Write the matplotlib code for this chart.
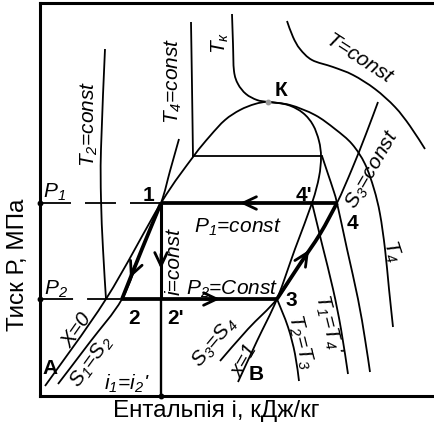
import numpy as np
import matplotlib
matplotlib.use("Agg")
import matplotlib.pyplot as plt
from matplotlib.path import Path
from matplotlib.patches import PathPatch

plt.rcParams["font.family"] = ["Liberation Sans", "DejaVu Sans"]
plt.rcParams["mathtext.default"] = "regular"
plt.rcParams["lines.scale_dashes"] = False

# ---- pressure levels and cycle state points (enthalpy i, pressure P; arbitrary units)
P1 = 193
P2 = 97
P_T4 = 240
i_1, i_2, i_2p, i_3, i_4p, i_4 = 121, 82, 121, 237, 272, 297
i_K, P_K = 228, 294

# ---- saturation dome: x=0 branch from A up to K, then x=1 branch down to B
dome_i = [5, 66, 121, 153, 170, 185, 200, 215, 228, 248, 263, 273, 279, 281, 279, 272, 255, 237, 217, 198]
dome_P = [10, 97, 193, 239, 260, 276, 286, 292, 294, 291, 283, 271, 255, 239, 219, 193, 147, 97, 55, 14]

# ---- critical isotherm Tк (passes through K)
tk_i = [192, 193, 194, 198, 206, 217, 228, 250, 275, 295, 312, 325, 334, 340, 345, 349, 353]
tk_P = [382, 352, 325, 312, 302, 296, 294, 291, 281, 267, 252, 232, 207, 182, 147, 107, 69]

# ---- isotherm T4: liquid part, two-phase part at P_T4, superheated part through 4
t4_liq_i = [151, 152, 153]
t4_liq_P = [374, 310, 239]
t4_two_i = [153, 282]
t4_vap_i = [282, 288, 293, 297, 307, 318, 325, 330]
t4_vap_P = [240, 222, 207, 193, 147, 97, 57, 24]

# ---- isotherm T1 = T4' (superheated branch from 4')
t1_i = [272, 282, 293, 301, 308]
t1_P = [193, 152, 107, 67, 22]

# ---- isotherm T2 = T3 (liquid branch and superheated branch from 3)
t2_liq_i = [65, 61, 61, 63, 66]
t2_liq_P = [347, 247, 197, 147, 97]
t3_i = [237, 248, 255, 259]
t3_P = [97, 69, 42, 15]

# ---- isentropes S1 = S2 (through 1 and 2) and S3 = S4 (through 3 and 4)
s1_i = [18, 50, 82, 102, 121, 130, 139]
s1_P = [12, 54, 97, 147, 193, 225, 257]
s3_i = [180, 208, 237, 260, 280, 297, 312, 326, 338]
s3_P = [35, 67, 97, 132, 162, 193, 227, 262, 294]

# ---- a high-temperature isotherm T = const
tc_i = [247, 253, 260, 272, 293, 313, 335, 355, 370, 385]
tc_P = [375, 359, 347, 336, 329, 321, 307, 289, 270, 247]

THIN = 1.3
THICK = 2.7


def smooth_path(xs, ys):
    """Smooth curve through the given points (Catmull-Rom as cubic Bezier)."""
    pts = np.column_stack([xs, ys]).astype(float)
    n = len(pts)
    verts = [pts[0]]
    codes = [Path.MOVETO]
    for k in range(n - 1):
        p0 = pts[k - 1] if k > 0 else pts[k]
        p1, p2 = pts[k], pts[k + 1]
        p3 = pts[k + 2] if k + 2 < n else pts[k + 1]
        verts += [p1 + (p2 - p0) / 6.0, p2 - (p3 - p1) / 6.0, p2]
        codes += [Path.CURVE4] * 3
    return Path(verts, codes)


def curve(ax, xs, ys, lw=THIN, **kw):
    ax.add_patch(PathPatch(smooth_path(xs, ys), fill=False, lw=lw,
                           edgecolor="black", capstyle="butt", joinstyle="round", **kw))


fig = plt.figure(figsize=(4.34, 4.27), dpi=100)
ax = fig.add_axes([40 / 434, 30 / 427, 394 / 434, 393 / 427])
ax.set_xlim(0, 394)
ax.set_ylim(0, 393)
ax.set_xticks([])
ax.set_yticks([])
for side in ("left", "top", "bottom"):
    ax.spines[side].set_linewidth(2.2)
ax.spines["right"].set_visible(False)

# thin property lines
curve(ax, dome_i, dome_P)
curve(ax, tk_i, tk_P)
curve(ax, t4_liq_i, t4_liq_P)
ax.plot(t4_two_i, [P_T4, P_T4], color="black", lw=THIN)
curve(ax, t4_vap_i, t4_vap_P)
curve(ax, t1_i, t1_P)
curve(ax, t2_liq_i, t2_liq_P)
curve(ax, t3_i, t3_P)
curve(ax, s1_i, s1_P)
curve(ax, s3_i, s3_P)
curve(ax, tc_i, tc_P)

# pressure guide lines from the axis
ax.plot([0, i_1], [P1, P1], color="black", lw=THIN, dashes=(22.3, 10.1))
ax.plot([0, i_2], [P2, P2], color="black", lw=THIN, dashes=(23.8, 10.1, 80, 5))

# cycle: 4 -> 1 (P1), 1 -> 2 (S1), 1 -> 2' (i = const), 2 -> 3 (P2), 3 -> 4 (S3)
ax.plot([i_4, i_1], [P1, P1], color="black", lw=THICK, solid_capstyle="butt")
ax.plot([i_2, i_3], [P2, P2], color="black", lw=THICK, solid_capstyle="butt")
ax.plot([i_1, i_2p], [P1, P2], color="black", lw=2.2, solid_capstyle="butt")
ax.plot([i_2p, i_2p], [P2, 0], color="black", lw=1.7, solid_capstyle="butt")
curve(ax, s1_i[2:5], s1_P[2:5], lw=THICK)
curve(ax, s3_i[2:6], s3_P[2:6], lw=THICK)

# direction arrows on the cycle
arrows = [((200, P1), (215, P1)),
          ((i_1, 127), (i_1, 142)),
          ((180, P2), (165, P2)),
          ((90, 118), (95, 130)),
          ((269, 146), (262, 135))]
for tip, tail in arrows:
    ax.annotate("", xy=tip, xytext=tail,
                arrowprops=dict(arrowstyle="->,head_length=0.95,head_width=0.45",
                                lw=2.0, color="black", shrinkA=0, shrinkB=0))

# small reference dots
ax.plot([0, 0, i_2p], [P1, P2, 0], "o", color="black", ms=3.2, clip_on=False, zorder=5)
ax.plot([i_K], [P_K], "o", color="#9a9a9a", ms=3.2, zorder=5)

# italic curve labels: (text, i, P, rotation)
italic_labels = [
    ("T$_2$=const", 49, 273, 90),
    ("T$_4$=const", 133, 316, 90),
    ("T$_к$", 180, 354, 90),
    ("T=const", 319, 338, -33),
    ("S$_3$=const", 333, 227, 60),
    ("P$_1$", 15, 205, 0),
    ("P$_2$", 16, 108, 0),
    ("P$_1$=const", 198, 170, 0),
    ("i=const", 134, 135, 90),
    ("P$_2$=Const", 192, 108, 0),
    ("X=0", 37, 67, 55),
    ("S$_1$=S$_2$", 52, 35, 54),
    ("i$_1$=i$_2$'", 87, 13, 0),
    ("S$_3$=S$_4$", 175, 54, 50),
    ("x=1", 205, 37, 60),
    ("T$_2$=T$_3$", 260, 55, -76),
    ("T$_1$=T$_4$'", 288, 72, -76),
    ("T$_4$", 352, 146, -72),
]
for txt, x, y, rot in italic_labels:
    ax.text(x, y, txt, fontsize=15, fontstyle="italic", rotation=rot,
            ha="center", va="center", rotation_mode="anchor")

# state point labels
point_labels = [("1", 108, 201), ("2", 94, 79), ("2'", 136, 79), ("3", 251, 96),
                ("4'", 264, 201), ("4", 312, 173), ("К", 241, 307),
                ("A", 10, 28), ("B", 216, 22)]
for txt, x, y in point_labels:
    ax.text(x, y, txt, fontsize=15, fontweight="bold", ha="center", va="center")

# axis titles
fig.text(216 / 434, 1 - 411 / 427, "Ентальпія і, кДж/кг", fontsize=17.5,
         ha="center", va="center")
fig.text(18 / 434, 1 - 265 / 427, "Тиск Р, МПа", fontsize=17.5, rotation=90,
         ha="center", va="center")

fig.savefig("out.png", dpi=100)
